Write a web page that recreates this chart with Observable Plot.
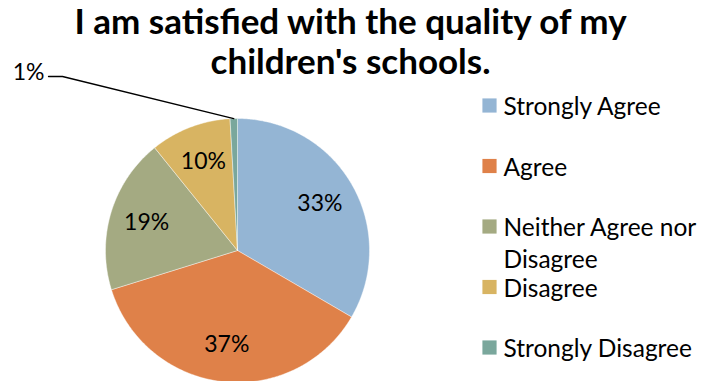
<!DOCTYPE html>
<html>
<head>
<meta charset="utf-8">
<script src="https://cdn.jsdelivr.net/npm/d3@7"></script>
<script src="https://cdn.jsdelivr.net/npm/@observablehq/plot@0.6"></script>
<style>
  html, body { margin: 0; padding: 0; background: #fff; }
  #chart { width: 704px; height: 381px; overflow: hidden; }
</style>
</head>
<body>
<div id="chart"></div>
<script>
const categories = ["Strongly Agree", "Agree", "Neither Agree nor Disagree", "Disagree", "Strongly Disagree"];
const legendLabels = ["Strongly Agree", "Agree", "Neither Agree nor\nDisagree", "Disagree", "Strongly Disagree"];
const values = [33.4, 36.8, 19.0, 9.9, 0.9];
const pctLabels = ["33%", "37%", "19%", "10%", "1%"];
const colors = ["#94B5D4", "#DF8149", "#A4AA82", "#D8B462", "#7AA79C"];
const titleLines = ["I am satisfied with the quality of my", "children's schools."];

// layout
const W = 704, H = 381;
const cx = 237, cy = 250, R = 132;
const labelR = 95;
const font = "Lato";

const arcs = d3.pie().sort(null).value(d => d)(values);
const pt = (a, r) => ({x: cx + r * Math.sin(a), y: cy - r * Math.cos(a)});

// slice polygons
const slices = arcs.map((a, i) => {
  const pts = [{x: cx, y: cy}];
  const n = Math.max(2, Math.ceil((a.endAngle - a.startAngle) / 0.01));
  for (let k = 0; k <= n; k++) {
    const ang = a.startAngle + (a.endAngle - a.startAngle) * k / n;
    pts.push(pt(ang, R));
  }
  pts.push({x: cx, y: cy});
  return pts;
});

const mid = a => (a.startAngle + a.endAngle) / 2;
const inside = arcs.map((a, i) => ({...pt(mid(a), labelR), text: pctLabels[i], i})).filter(d => values[d.i] >= 5);
const small = arcs.map((a, i) => ({a, i})).filter(d => values[d.i] < 5);

const leaderMarks = small.flatMap(({a, i}) => {
  const e = pt(mid(a), R);
  const pts = [{x: 48, y: 76}, {x: 62, y: 76}, e];
  return [
    Plot.line(pts, {x: "x", y: "y", stroke: "#000", strokeWidth: 1.3}),
    Plot.text([{x: 44, y: 72, t: pctLabels[i]}], {x: "x", y: "y", text: "t", textAnchor: "end", fontSize: 23, fill: "#000"})
  ];
});

const legendRows = categories.map((c, i) => ({c, label: legendLabels[i], color: colors[i], y: 105 + i * 60.5}));

const plot = Plot.plot({
  width: W, height: H,
  margin: 0,
  style: {fontFamily: font, background: "#fff"},
  x: {domain: [0, W], range: [0, W], axis: null},
  y: {domain: [0, H], range: [0, H], axis: null},
  marks: [
    ...slices.map((s, i) => Plot.line(s, {x: "x", y: "y", fill: colors[i], stroke: "#fff", strokeWidth: 0.6, strokeOpacity: 0.7, curve: "linear"})),
    Plot.text(inside, {x: "x", y: "y", text: "text", fontSize: 23, fill: "#000"}),
    ...leaderMarks,
    Plot.text(titleLines.map((t, i) => ({t, y: 22 + i * 40})), {x: () => 350, y: "y", text: "t", fontSize: 35, fontWeight: "bold", fill: "#000"}),
    Plot.dot(legendRows, {x: () => 489, y: "y", symbol: "square", r: 8, fill: "color", stroke: null}),
    Plot.text(legendRows, {x: () => 503, y: "y", text: "label", textAnchor: "start", lineAnchor: "top", dy: -13, lineHeight: 1.3, fontSize: 24.5, fill: "#000"})
  ]
});
document.getElementById("chart").appendChild(plot);
</script>
</body>
</html>
